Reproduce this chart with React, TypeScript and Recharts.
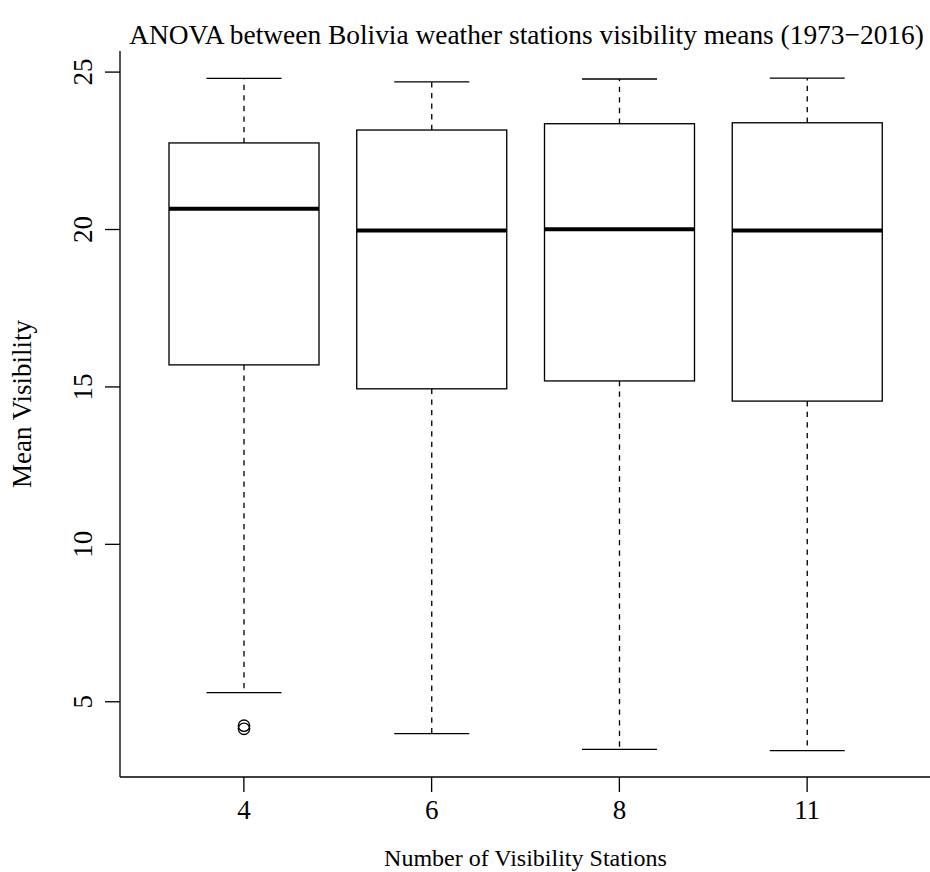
import { Bar, ComposedChart, Customized, XAxis, YAxis } from "recharts";

// box plot summary per group
const stations = ["4", "6", "8", "11"];
const whiskerLow = [5.29, 3.99, 3.49, 3.45];
const q1 = [15.7, 14.94, 15.19, 14.55];
const median = [20.66, 19.97, 20.01, 19.97];
const q3 = [22.75, 23.16, 23.36, 23.39];
const whiskerHigh = [24.8, 24.69, 24.78, 24.81];
const outliers: number[][] = [[4.24, 4.14], [], [], []];

const yTicks = [5, 10, 15, 20, 25];

const data = stations.map((s, i) => ({
    station: s,
    range: [whiskerLow[i], whiskerHigh[i]],
    low: whiskerLow[i],
    q1: q1[i],
    median: median[i],
    q3: q3[i],
    high: whiskerHigh[i],
    out: outliers[i],
}));

const FONT = "'Liberation Serif', 'DejaVu Serif', serif";
const LW = 1.33;
const TICK_FS = 27;

function BoxShape(props: any) {
    const { x, y, width, height, payload } = props;
    const { low, high } = payload;
    // linear map from value to pixel, taken from the bar's own scaled extent
    const py = (v: number) => y + (height * (high - v)) / (high - low);
    const cx = x + width / 2;
    const capHalf = width / 4;
    return (
        <g>
            <line x1={cx} x2={cx} y1={py(payload.q3)} y2={py(high)} stroke="#000" strokeWidth={LW} strokeDasharray="5.3 5.3" />
            <line x1={cx} x2={cx} y1={py(payload.q1)} y2={py(low)} stroke="#000" strokeWidth={LW} strokeDasharray="5.3 5.3" />
            <line x1={cx - capHalf} x2={cx + capHalf} y1={py(high)} y2={py(high)} stroke="#000" strokeWidth={LW} />
            <line x1={cx - capHalf} x2={cx + capHalf} y1={py(low)} y2={py(low)} stroke="#000" strokeWidth={LW} />
            <rect x={x} y={py(payload.q3)} width={width} height={py(payload.q1) - py(payload.q3)} fill="#fff" stroke="#000" strokeWidth={LW} />
            <line x1={x} x2={x + width} y1={py(payload.median)} y2={py(payload.median)} stroke="#000" strokeWidth={4} />
            {payload.out.map((v: number, k: number) => (
                <circle key={k} cx={cx} cy={py(v)} r={5.7} fill="none" stroke="#000" strokeWidth={LW} />
            ))}
        </g>
    );
}

function YTick(props: any) {
    const { x, y, payload } = props;
    return (
        <text x={x} y={y} transform={`rotate(-90 ${x} ${y})`} textAnchor="middle" fontSize={TICK_FS} fontFamily={FONT} fill="#000">
            {payload.value}
        </text>
    );
}

function XTick(props: any) {
    const { x, y, payload } = props;
    return (
        <text x={x} y={y} dy="0.68em" textAnchor="middle" fontSize={TICK_FS} fontFamily={FONT} fill="#000">
            {payload.value}
        </text>
    );
}

function Titles() {
    return (
        <g fontFamily={FONT} fill="#000">
            <text x={526.5} y={44} textAnchor="middle" fontSize={27.4}>
                ANOVA between Bolivia weather stations visibility means (1973−2016)
            </text>
            <text x={525.5} y={866} textAnchor="middle" fontSize={24}>
                Number of Visibility Stations
            </text>
            <text x={31} y={404} transform="rotate(-90 31 404)" textAnchor="middle" fontSize={27}>
                Mean Visibility
            </text>
        </g>
    );
}

export default function App() {
    return (
        <div style={{ position: "absolute", left: 0, top: 0, width: 930, height: 872, overflow: "hidden", background: "#fff" }}>
            <ComposedChart width={932} height={872} data={data} margin={{ top: 51, right: 1, bottom: 0, left: 0 }}>
                <XAxis
                    dataKey="station"
                    height={95}
                    padding={{ left: 30, right: 30 }}
                    tickSize={15}
                    tickMargin={9}
                    tick={<XTick />}
                    axisLine={{ stroke: "#000", strokeWidth: LW }}
                    tickLine={{ stroke: "#000", strokeWidth: LW }}
                />
                <XAxis xAxisId="top" dataKey="station" orientation="top" height={0} tick={false} tickLine={false} axisLine={{ stroke: "#000", strokeWidth: LW }} />
                <YAxis
                    type="number"
                    width={120}
                    domain={[2.61, 25.67]}
                    ticks={yTicks}
                    allowDataOverflow
                    tickSize={15}
                    tickMargin={13}
                    tick={<YTick />}
                    axisLine={{ stroke: "#000", strokeWidth: LW }}
                    tickLine={{ stroke: "#000", strokeWidth: LW }}
                />
                <Bar dataKey="range" barSize={150} shape={<BoxShape />} isAnimationActive={false} />
                <Customized component={<Titles />} />
            </ComposedChart>
        </div>
    );
}
